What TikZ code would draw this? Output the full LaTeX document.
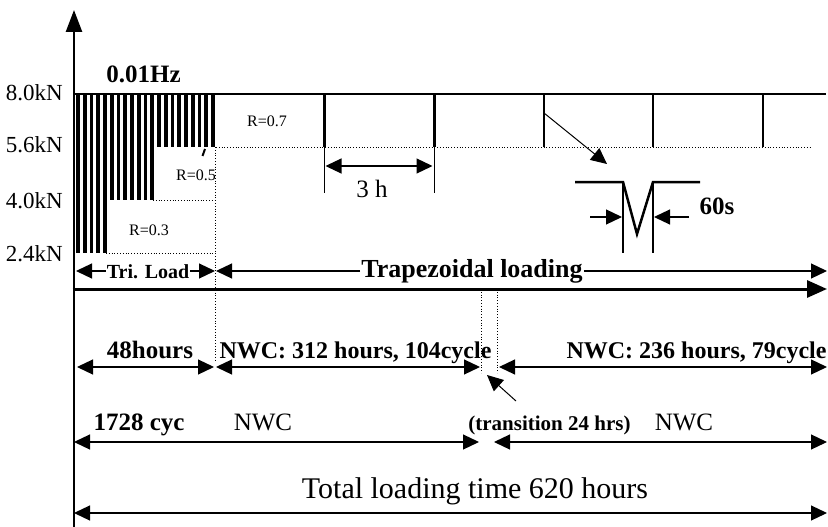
\documentclass[tikz,border=0pt]{standalone}
\usepackage{fontspec}
\setmainfont{Liberation Serif}
\usetikzlibrary{arrows.meta}
\begin{document}
\begin{tikzpicture}[x=1pt,y=-1pt,
  onearrow/.style={-{Triangle[length=16pt,width=15pt]}, line width=1.2pt},
  twoarrow/.style={{Triangle[length=16pt,width=15pt]}-{Triangle[length=16pt,width=15pt]}, line width=1.2pt},
  ylab/.style={font=\fontsize{23}{23}\selectfont, inner sep=0pt, anchor=base east},
  rlab/.style={font=\fontsize{16}{16}\selectfont, inner sep=0pt, anchor=base},
  blab/.style={font=\bfseries\fontsize{24}{24}\selectfont, inner sep=0pt, anchor=base},
  nlab/.style={font=\fontsize{25}{25}\selectfont, inner sep=0pt, anchor=base},
  dots/.style={dotted, line width=0.8pt},
  heavy/.style={line width=2.5pt},
]
\useasboundingbox (0,0) rectangle (828,527);
% axes
\coordinate (yb) at (74,527);
\coordinate (yo) at (74,289);
\coordinate (yt) at (74,10);
\coordinate (xe) at (827,289);
\draw[line width=1.2pt] (yb) -- (yo);
\draw[line width=2.5pt, -{Triangle[length=22pt,width=16pt]}] (yo) -- (yt);
\draw[line width=3pt, -{Triangle[length=20pt,width=17pt]}] (72.5,289) -- (xe);
% top line
\draw[heavy] (73,94) -- (826,94);
% triangular load bars
\foreach \i in {0,...,20}{
  \pgfmathsetmacro\xx{76+\i*6.75}
  \pgfmathsetmacro\yy{\xx<106?253:(\xx<153?200:147)}
  \fill (\xx,94) rectangle ({\xx+3.8},\yy);
}
\draw[line width=2pt] (205,149) -- (202.5,156);
% dotted lines
\draw[dots] (106,253) -- (215,253);
\draw[dots] (153,200) -- (215,200);
\draw[dots] (216,147) -- (810,147);
\draw[dots] (215,147) -- (215,362);
\draw[dots] (481,289) -- (481,373);
\draw[dots] (497,289) -- (497,373);
% trapezoidal bars
\draw[line width=3pt] (324,94) -- (324,147);
\draw[line width=3pt] (434,94) -- (434,147);
\draw[line width=1.8pt] (544,94) -- (544,147);
\draw[line width=2.5pt] (653,94) -- (653,147);
\draw[line width=2pt] (763,94) -- (763,147);
% y labels
\node[ylab] (l80) at (63,100) {8.0kN};
\node[ylab] (l56) at (63,153) {5.6kN};
\node[ylab] (l40) at (63,208) {4.0kN};
\node[ylab] (l24) at (63,261) {2.4kN};
\node[font=\bfseries\fontsize{25}{25}\selectfont, inner sep=0pt, anchor=base] (hz) at (143.5,82) {0.01Hz};
% R labels
\node[rlab] (r7) at (267,127) {R=0.7};
\node[rlab] (r5) at (196,180) {R=0.5};
\node[rlab] (r3) at (149,235) {R=0.3};
% 3 h dimension
\coordinate (h1) at (324,147);
\coordinate (h1b) at (324,193);
\coordinate (h2) at (434,147);
\coordinate (h2b) at (434,193);
\draw[line width=1pt] (h1) -- (h1b);
\draw[line width=1pt] (h2) -- (h2b);
\draw[twoarrow] (325.5,166) -- (432.5,166);
\node[nlab] (th) at (372,197) {3 h};
% detail arrow
\coordinate (da) at (544,113);
\coordinate (db) at (607,164);
\draw[onearrow, line width=1pt] (da) -- (db);
% V detail
\draw[line width=2.5pt, line join=miter] (575,182) -- (623,182) -- (637,234) -- (653,182) -- (700,182);
\draw[line width=1.2pt] (623,182) -- (623,253);
\draw[line width=1.2pt] (653,182) -- (653,253);
\draw[onearrow] (590,217) -- (622,217);
\draw[onearrow] (689,217) -- (654,217);
\node[font=\bfseries\fontsize{25}{25}\selectfont, inner sep=0pt, anchor=base] (sx) at (717,214) {60s};
% Tri load / trapezoidal row
\node[font=\bfseries\fontsize{20}{20}\selectfont, inner sep=1pt, anchor=base] (tri) at (148,278) {Tri. Load};
\node[font=\bfseries\fontsize{26}{26}\selectfont, inner sep=1pt, anchor=base] (trap) at (472,277) {Trapezoidal loading};
\coordinate (t1) at (76,271);
\coordinate (t2) at (215,271);
\coordinate (t3) at (216,271);
\coordinate (t4) at (827,271);
\draw[onearrow] (tri.west |- t1) -- (t1);
\draw[onearrow] (tri.east |- t1) -- (t2);
\draw[onearrow] (trap.west |- t1) -- (t3);
\draw[onearrow] (trap.east |- t1) -- (t4);
% 48 hours row
\coordinate (a1) at (77,367);
\coordinate (a2) at (214,367);
\coordinate (a3) at (216,367);
\coordinate (a4) at (480,367);
\coordinate (a5) at (499,367);
\coordinate (a6) at (827,367);
\draw[twoarrow] (a1) -- (a2);
\draw[twoarrow] (a3) -- (a4);
\draw[twoarrow] (a5) -- (a6);
\node[font=\bfseries\fontsize{25}{25}\selectfont, inner sep=0pt, anchor=base] (h48) at (150,358) {48hours};
\node[blab] (n312) at (355.5,358) {NWC: 312 hours, 104cycle};
\node[blab] (n236) at (696.5,358) {NWC: 236 hours, 79cycle};
% transition pointer
\coordinate (p1) at (516,401);
\coordinate (p2) at (487,375);
\draw[onearrow, line width=1pt] (p1) -- (p2);
% cycles row
\coordinate (c1) at (74,442);
\coordinate (c2) at (479,442);
\coordinate (c3) at (494,442);
\coordinate (c4) at (827,442);
\draw[twoarrow] (c1) -- (c2);
\draw[twoarrow] (c3) -- (c4);
\node[font=\bfseries\fontsize{25}{25}\selectfont, inner sep=0pt, anchor=base] (cyc) at (139,430) {1728 cyc};
\node[nlab] (nw1) at (263,430) {NWC};
\node[font=\bfseries\fontsize{21}{21}\selectfont, inner sep=0pt, anchor=base] (tr) at (549.5,430) {(transition 24 hrs)};
\node[nlab] (nw2) at (684,430) {NWC};
% total row
\coordinate (s1) at (74,513);
\coordinate (s2) at (827,513);
\draw[twoarrow] (s1) -- (s2);
\node[font=\fontsize{30}{30}\selectfont, inner sep=0pt, anchor=base] (tot) at (475,498) {Total loading time 620 hours};
\end{tikzpicture}
\end{document}
